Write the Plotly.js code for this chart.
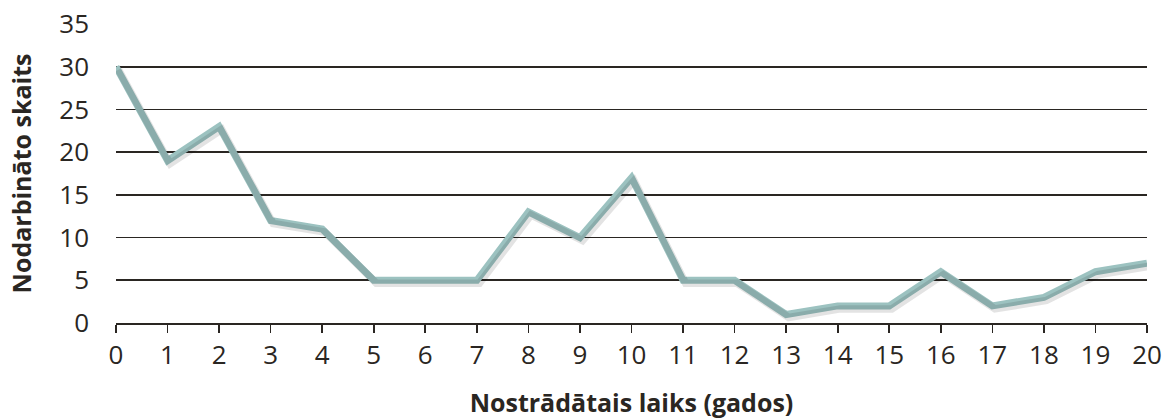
<!DOCTYPE html>
<html>
<head>
<meta charset="utf-8">
<script src="https://cdn.plot.ly/plotly-3.0.1.min.js"></script>
<style>html,body{margin:0;padding:0;background:#fff;}#chart{width:1164px;height:419px;}</style>
</head>
<body>
<div id="chart"></div>
<script>
const years = [0,1,2,3,4,5,6,7,8,9,10,11,12,13,14,15,16,17,18,19,20];
const counts = [30,19,23,12,11,5,5,5,13,10,17,5,5,1,2,2,6,2,3,6,7];
const xTickLabels = ["0","1","2","3","4","5","6","7","8","9","10","11","12","13","14","15","16","17","18","19","20"];
const yTicks = [0,5,10,15,20,25,30,35];

const fontFam = '"Open Sans", "Noto Sans", sans-serif';
const dark = '#2a2622';

const shadow = {
  x: years, y: counts, type: 'scatter', mode: 'lines',
  xaxis: 'x2', yaxis: 'y2',
  line: {color: 'rgba(0,0,0,0.11)', width: 7.5},
  hoverinfo: 'skip', showlegend: false
};
const main = {
  x: years, y: counts, type: 'scatter', mode: 'lines',
  line: {color: '#9cc2c0', width: 7},
  showlegend: false
};

const layout = {
  width: 1164, height: 419,
  margin: {l: 116, r: 17, t: 24, b: 96, autoexpand: false},
  paper_bgcolor: '#fff', plot_bgcolor: '#fff',
  font: {family: fontFam, size: 26, color: dark},
  xaxis: {
    range: [0, 20], tickvals: years, ticktext: xTickLabels,
    showgrid: false, zeroline: false, automargin: false,
    showline: true, linecolor: dark, linewidth: 1.6,
    ticks: 'outside', ticklen: 8, tickcolor: dark, tickwidth: 1.6,
    tickfont: {size: 26, color: dark},
    title: {text: 'Nostrādātais laiks (gados)', font: {size: 25, color: dark, family: fontFam, weight: 'bold'}, standoff: 26}
  },
  yaxis: {
    range: [0, 35], tickvals: yTicks, automargin: false,
    showgrid: true, gridcolor: dark, gridwidth: 1.6,
    zeroline: false, showline: false, ticks: '',
    ticklabelstandoff: 26,
    tickfont: {size: 26, color: dark},
    title: {text: 'Nodarbināto skaits', font: {size: 25, color: dark, family: fontFam, weight: 'bold'}, standoff: 20}
  },
  xaxis2: {range: [-0.05, 19.95], overlaying: 'x', visible: false},
  yaxis2: {range: [0.35, 35.35], overlaying: 'y', visible: false}
};

Plotly.newPlot('chart', [shadow, main], layout, {staticPlot: true});
</script>
</body>
</html>
